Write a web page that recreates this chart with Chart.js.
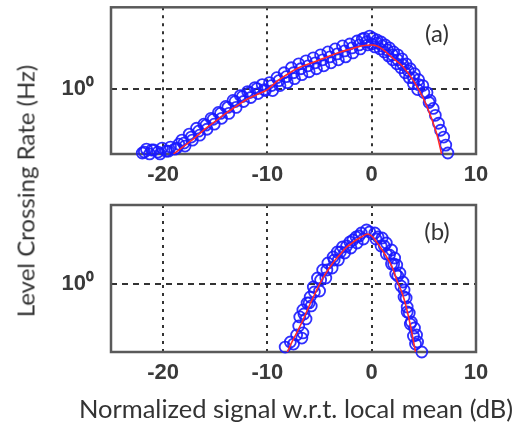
<!DOCTYPE html>
<html>
<head>
<meta charset="utf-8">
<script src="https://cdn.jsdelivr.net/npm/chart.js@4.4.1/dist/chart.umd.min.js"></script>
<style>
  html, body { margin: 0; padding: 0; background: #ffffff; }
  #wrap { position: relative; width: 517px; height: 427px; background: #ffffff; overflow: hidden; }
  canvas { position: absolute; left: 0; }
  .txt { position: absolute; font-family: Lato, "Open Sans", sans-serif; color: #333333; white-space: nowrap; }
</style>
</head>
<body>
<div id="wrap">
  <canvas id="chartA" width="517" height="200" style="top:0px"></canvas>
  <canvas id="chartB" width="517" height="200" style="top:195px"></canvas>
  <div class="txt" id="ytitle" style="left:25px; top:191px; font-size:24px; transform: translate(-50%,-50%) rotate(-90deg);">Level Crossing Rate (Hz)</div>
  <div class="txt" id="xtitle" style="left:296px; top:408px; font-size:25.5px; transform: translate(-50%,-50%);">Normalized signal w.r.t. local mean (dB)</div>
  <div class="txt" style="left:437px; top:32px; font-size:24px; transform: translate(-50%,-50%);">(a)</div>
  <div class="txt" style="left:437px; top:230px; font-size:24px; transform: translate(-50%,-50%);">(b)</div>
</div>
<script>
// ---- tick labels ----
const xTicks = [-20, -10, 0, 10];
const xTickLabels = ['-20', '-10', '0', '10'];
const yTicks = [1];
const yTickLabels = ['10\u2070'];

// ---- panel (a): measured level crossing rate (circles) ----
const aMeasX = [
  -22.0,-21.6,-21.3,-20.9,-20.5,-20.1,-19.7,-19.3,-18.9,-18.5,
  -21.8,-21.1,-20.3,-19.5,-18.7,
  -18.2,-17.9,-17.5,-17.2,-16.8,-16.5,-16.1,-15.8,-15.4,-15.1,-14.7,-14.4,-14.0,-13.7,-13.3,-13.0,-12.6,-12.3,-11.9,-11.6,-11.2,-10.9,-10.5,-10.2,
  -9.8,-9.5,-9.1,-8.8,-8.4,-8.1,-7.7,-7.4,-7.0,-6.7,-6.3,-6.0,-5.6,-5.3,-4.9,-4.6,-4.2,-3.9,-3.5,-3.2,-2.8,-2.5,-2.1,-1.8,-1.4,-1.1,-0.7,-0.4,-0.2,
  -18.0,-17.3,-16.6,-15.9,-15.2,-14.5,-13.8,-13.1,-12.4,-11.7,-11.0,-10.3,-9.6,-8.9,-8.2,-7.5,-6.8,-6.1,-5.4,-4.7,-4.0,-3.3,-2.6,-1.9,-1.2,-0.9,-0.5,0.0,
  0.1,0.5,0.9,1.3,1.7,2.1,2.5,2.9,3.3,3.7,4.1,4.5,4.9,5.3,5.6,5.9,6.1,6.4,6.6,6.9,7.1,7.3,
  0.3,0.8,1.2,1.6,2.0,2.4,2.8,3.2,3.6,4.0,4.4,
  0.5,1.0,1.5,2.0,2.5,3.0,3.5,4.0,4.5,5.0,5.5
];
const aMeasY = [
  0.224,0.245,0.219,0.240,0.229,0.251,0.234,0.257,0.245,0.275,
  0.229,0.240,0.219,0.234,0.251,
  0.302,0.263,0.347,0.302,0.398,0.339,0.437,0.389,0.501,0.437,0.575,0.501,0.661,0.562,0.759,0.646,0.851,0.741,0.933,0.813,1.023,0.891,1.096,0.955,
  1.148,0.955,1.288,1.072,1.445,1.148,1.622,1.259,1.778,1.380,1.905,1.479,2.042,1.585,2.188,1.698,2.344,1.820,2.512,1.950,2.692,2.089,2.818,2.291,3.020,2.512,3.236,2.754,3.388,
  0.282,0.324,0.372,0.427,0.490,0.562,0.646,0.741,0.832,0.912,1.000,0.977,1.072,1.202,1.318,1.445,1.585,1.698,1.820,1.950,2.089,2.239,2.399,2.570,2.754,3.162,2.951,2.818,
  3.236,3.090,2.951,2.754,2.570,2.344,2.188,1.995,1.778,1.585,1.413,1.230,1.072,0.912,0.759,0.631,0.537,0.447,0.380,0.324,0.269,0.224,
  2.630,2.512,2.344,2.138,1.950,1.778,1.622,1.445,1.288,1.122,0.977,
  2.884,2.692,2.455,2.188,1.950,1.738,1.514,1.288,1.096,0.912,0.724
];
// ---- panel (a): fitted curve (red) ----
const aFitX = [-19,-18,-17,-16,-15,-14,-13,-12,-11,-10,-9,-8,-7,-6,-5,-4,-3,-2,-1,0,0.5,1,2,3,4,5,5.8,6.3,6.7];
const aFitY = [0.219,0.263,0.316,0.389,0.468,0.562,0.661,0.776,0.871,0.977,1.202,1.413,1.622,1.778,1.950,2.138,2.344,2.512,2.692,2.754,2.692,2.512,2.042,1.660,1.202,0.776,0.479,0.331,0.219];

// ---- panel (b): measured level crossing rate (circles) ----
const bMeasX = [
  -8.3,-7.8,-7.5,-7.2,-6.7,-6.6,
  -6.9,-6.6,-6.2,-5.9,-5.6,-5.2,-4.7,-4.2,-3.7,-3.3,-2.8,-2.1,-1.5,-1.0,-0.5,
  -6.3,-5.8,-5.0,-4.4,-3.8,-3.2,-2.6,-2.0,-1.4,-0.8,
  -7.0,-6.5,-6.0,-5.5,-4.9,-4.3,-3.6,-3.0,-2.4,-1.8,-1.2,-0.2,
  0.3,1.0,1.4,1.9,2.2,2.4,2.7,3.0,3.1,3.3,3.4,3.6,3.8,4.1,4.3,4.4,4.8,
  0.4,0.9,1.4,1.9,2.3,
  0.6,1.2,1.7,2.1,2.5,2.8,3.1,3.4,3.7,4.0,4.2
];
const bMeasY = [
  0.234,0.263,0.251,0.309,0.288,0.324,
  0.468,0.550,0.646,0.741,0.933,1.148,1.380,1.622,1.862,2.089,2.344,2.630,2.951,3.236,3.467,
  0.447,0.603,0.851,1.148,1.445,1.738,2.042,2.291,2.570,2.818,
  0.380,0.501,0.646,0.832,1.096,1.380,1.738,2.089,2.399,2.754,3.020,3.311,
  3.236,2.884,2.570,2.188,1.820,1.549,1.288,1.047,0.871,0.724,0.589,0.513,0.417,0.363,0.309,0.263,0.209,
  2.818,2.399,1.995,1.585,1.259,
  2.951,2.399,1.950,1.585,1.202,0.955,0.741,0.525,0.398,0.302,0.251
];
// ---- panel (b): fitted curve (red) ----
const bFitX = [-8.1,-7.5,-7.0,-6.5,-6.0,-5.5,-5.0,-4.5,-4.0,-3.5,-3.0,-2.5,-2.0,-1.5,-1.0,-0.4,0.0,0.4,0.8,1.2,1.7,2.0,2.4,2.8,3.1,3.4,3.7,4.0,4.2];
const bFitY = [0.209,0.282,0.355,0.457,0.603,0.776,1.000,1.230,1.479,1.738,1.995,2.291,2.512,2.754,2.951,3.162,3.020,2.692,2.344,2.042,1.660,1.445,1.096,0.871,0.708,0.537,0.389,0.269,0.209];

const tickFont = { family: '"Liberation Sans", Arial, sans-serif', size: 22, weight: 'bold' };
const tickColor = '#3a3a3a';

const boxPlugin = {
  id: 'box',
  beforeDatasetsDraw(chart) {
    const a = chart.chartArea, ctx = chart.ctx;
    ctx.save();
    ctx.strokeStyle = '#5a5a5a';
    ctx.lineWidth = 2.5;
    ctx.strokeRect(a.left, a.top, a.right - a.left, a.bottom - a.top);
    ctx.restore();
  }
};

function pts(xs, ys) { return xs.map((x, i) => ({ x: x, y: ys[i] })); }

function makeChart(id, measX, measY, fitX, fitY, yMin, yMax, padTop, xAxisH) {
  return new Chart(document.getElementById(id), {
    type: 'scatter',
    data: {
      datasets: [
        {
          data: pts(fitX, fitY), showLine: true, pointRadius: 0, borderColor: '#ff2a2a',
          borderWidth: 1.6, cubicInterpolationMode: 'monotone', order: 0
        },
        {
          data: pts(measX, measY), showLine: false, pointStyle: 'circle', pointRadius: 5.5,
          pointBorderWidth: 1.8, borderColor: 'rgba(25,25,255,0.9)', pointBorderColor: 'rgba(25,25,255,0.9)',
          backgroundColor: 'rgba(0,0,0,0)', pointBackgroundColor: 'rgba(0,0,0,0)', clip: false, order: 1
        }
      ]
    },
    options: {
      responsive: false, animation: false, devicePixelRatio: 1,
      layout: { padding: { left: 0, right: 41, top: padTop, bottom: 0 } },
      plugins: { legend: { display: false }, tooltip: { enabled: false } },
      scales: {
        x: {
          type: 'linear', min: -25, max: 10,
          afterBuildTicks: s => { s.ticks = xTicks.map(v => ({ value: v })); },
          afterFit: s => { s.height = xAxisH; s.paddingLeft = 0; s.paddingRight = 0; },
          ticks: { font: tickFont, color: tickColor, padding: 8, maxRotation: 0,
                   callback: (v, i) => xTickLabels[i] },
          grid: { color: '#333333', lineWidth: 2, drawTicks: false },
          border: { display: false, dash: [3, 5] }
        },
        y: {
          type: 'logarithmic', min: yMin, max: yMax,
          afterBuildTicks: s => { s.ticks = yTicks.map(v => ({ value: v })); },
          afterFit: s => { s.width = 111; s.paddingTop = 0; s.paddingBottom = 0; },
          ticks: { font: { family: '"Liberation Sans", Arial, sans-serif', size: 22, weight: 'bold' },
                   color: tickColor, padding: 17, callback: (v, i) => yTickLabels[i] },
          grid: { color: '#333333', lineWidth: 2, drawTicks: false },
          border: { display: false, dash: [6, 5] }
        }
      }
    },
    plugins: [boxPlugin]
  });
}

makeChart('chartA', aMeasX, aMeasY, aFitX, aFitY, 0.2188, 6.607, 6, 46);
makeChart('chartB', bMeasX, bMeasY, bFitX, bFitY, 0.2089, 6.166, 10, 43);
</script>
</body>
</html>
